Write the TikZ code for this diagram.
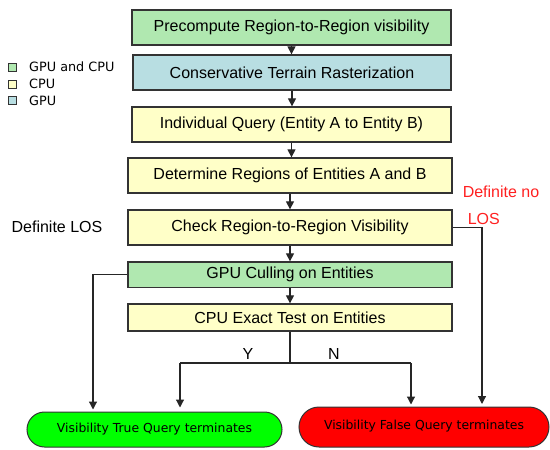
\documentclass[tikz,border=0pt]{standalone}
\usepackage{fontspec}
\setmainfont{Liberation Sans}
\newfontfamily\dvs{DejaVu Sans}
\usetikzlibrary{arrows.meta,shapes.misc}
\definecolor{gbox}{HTML}{B0E8B0}
\definecolor{bbox}{HTML}{B8DEE2}
\definecolor{ybox}{HTML}{FFFFC8}
\definecolor{bord}{HTML}{333333}
\definecolor{redtxt}{HTML}{FF2020}
\tikzset{
  procbox/.style={draw=bord, line width=1.3pt, minimum height=35pt, inner sep=0pt,
    font=\fontsize{16}{19}\selectfont},
  term/.style={rounded rectangle, draw=bord, line width=1pt, inner sep=0pt,
    font=\dvs\fontsize{12.4}{14}\selectfont},
  conn/.style={draw=black!85, line width=1.2pt, -{Triangle[length=8pt,width=8pt]}},
  plain/.style={draw=black!85, line width=1.2pt},
  legsq/.style={draw=bord, line width=1pt, minimum width=8pt, minimum height=8pt, inner sep=0pt},
  legtxt/.style={anchor=west, inner sep=0pt, font=\dvs\fontsize{12.8}{14}\selectfont},
  lbl/.style={inner sep=0pt, font=\fontsize{16}{19}\selectfont}
}
\begin{document}
\begin{tikzpicture}[x=1pt,y=-1pt]
\useasboundingbox (0,0) rectangle (550,450);
% boxes
\node[procbox, fill=gbox, minimum width=319pt] (b1) at (291.5,27.5) {Precompute Region-to-Region visibility};
\node[procbox, fill=bbox, minimum width=318pt] (b2) at (292,72.5) {Conservative Terrain Rasterization};
\node[procbox, fill=ybox, minimum width=319pt] (b3) at (291.5,124.5) {Individual Query (Entity A to Entity B)};
\node[procbox, fill=ybox, minimum width=324pt] (b4) at (290,175.5) {Determine Regions of Entities A and B};
\node[procbox, fill=ybox, minimum width=324pt] (b5) at (290,227.5) {Check Region-to-Region Visibility};
\node[procbox, fill=gbox, minimum width=324pt, minimum height=25.5pt] (b6) at (290,274.75) {GPU Culling on Entities};
\node[procbox, fill=ybox, minimum width=324pt, minimum height=27pt] (b7) at (290,317.5) {CPU Exact Test on Entities};
% terminals
\node[term, fill=green, minimum width=255pt, minimum height=35pt] (gT) at (154.5,429.5) {\raisebox{2.5pt}{Visibility True Query terminates}};
\node[term, fill=red, minimum width=250pt, minimum height=40pt] (rF) at (424,427) {\raisebox{5pt}{Visibility False Query terminates}};
% legend
\node[legsq, fill=gbox] (s1) at (12.5,67) {};
\node[legsq, fill=ybox] (s2) at (12.5,84) {};
\node[legsq, fill=bbox] (s3) at (12.5,100.5) {};
\node[legtxt] (t1) at (29,67) {GPU and CPU};
\node[legtxt] (t2) at (29,84) {CPU};
\node[legtxt] (t3) at (29,100.5) {GPU};
% labels
\node[lbl] (dlos) at (57,227) {Definite LOS};
\node[lbl, text=redtxt, align=left] (dnlos) at (501,205) {Definite no\\[8pt]\hspace*{5pt}LOS};
\node[lbl] (ylbl) at (248,354) {Y};
\node[lbl] (nlbl) at (334,354) {N};
% coordinates
\coordinate (split) at (290,363);
\coordinate (lsplit) at (180,363);
\coordinate (rsplit) at (411,363);
% connectors
\draw[conn] (b1.south) -- (b1.south |- b2.north);
\draw[conn] (b2.south) -- (b2.south |- b3.north);
\draw[conn] (b3.south) -- (b3.south |- b4.north);
\draw[conn] (b4.south) -- (b5.north);
\draw[conn] (b5.south) -- (b6.north);
\draw[conn] (b6.south) -- (b7.north);
\draw[plain] (b7.south) -- (split);
\draw[plain] (lsplit) -- (rsplit);
\draw[conn, shorten >=4pt] (lsplit) -- (lsplit |- gT.north);
\draw[conn, shorten >=2pt] (rsplit) -- (rsplit |- rF.north);
\draw[conn, shorten >=2.5pt] (b6.west) -| (93,412);
\draw[conn, shorten >=3pt] (b5.east) -| (482,407);
\end{tikzpicture}
\end{document}
